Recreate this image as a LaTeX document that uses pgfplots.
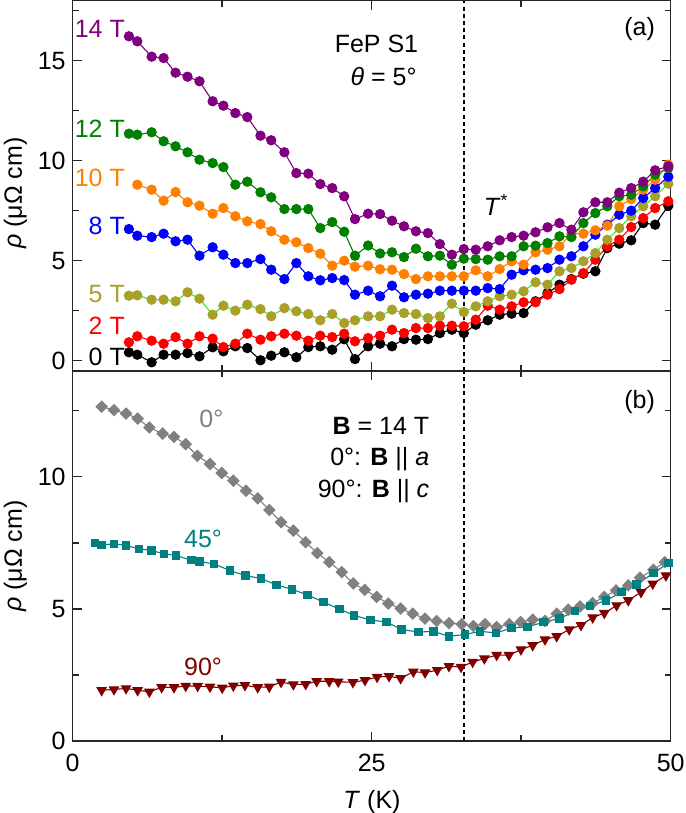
\documentclass[border=0pt]{standalone}
\usepackage{fontspec}
\setmainfont{Liberation Sans}
\usepackage{pgfplots}
\pgfplotsset{compat=1.18}
\usepackage{pgfplotstable}

\definecolor{cP}{HTML}{800080}
\definecolor{cG}{HTML}{008000}
\definecolor{cO}{HTML}{FF8000}
\definecolor{cB}{HTML}{0000FF}
\definecolor{cY}{HTML}{A8A028}
\definecolor{cL}{HTML}{33EE22}
\definecolor{cR}{HTML}{FF0000}
\definecolor{cK}{HTML}{000000}
\definecolor{cGr}{HTML}{808080}
\definecolor{cT}{HTML}{008080}
\definecolor{cDR}{HTML}{800000}

\newcommand{\fs}{\fontsize{12.5}{15}\selectfont}

\pgfplotstableread{
T v
4.7 16.22
5.4 15.97
6.6 15.2
7.6 15.13
8.6 14.4
9.6 14.2
10.6 13.97
11.7 12.97
12.6 12.75
13.6 12.38
14.6 12.18
15.7 11.25
16.6 11.02
17.7 10.42
18.7 9.38
19.7 9.35
20.7 8.83
21.7 8.63
22.7 8.22
23.6 7.08
24.7 7.35
25.7 7.33
26.7 7.0
27.7 6.72
28.7 6.47
29.7 6.38
30.7 5.83
31.7 5.3
32.7 5.58
33.7 5.55
34.7 5.72
35.7 6.02
36.7 6.18
37.7 6.25
38.7 6.42
39.7 6.67
40.7 6.88
41.7 6.55
42.7 7.42
43.7 7.92
44.7 7.92
45.7 8.4
46.7 8.63
47.7 8.95
48.7 9.52
49.8 9.72
}\tFourteen

\pgfplotstableread{
T v
4.7 11.35
5.4 11.3
6.6 11.42
7.6 10.97
8.6 10.72
9.6 10.42
10.6 10.05
11.7 9.88
12.6 9.68
13.6 8.8
14.6 8.95
15.7 8.42
16.6 8.17
17.7 7.58
18.7 7.58
19.7 7.58
20.7 6.63
21.7 6.93
22.7 6.45
23.6 5.25
24.7 5.76
25.7 5.36
26.7 5.42
27.7 5.18
28.7 5.6
29.7 5.22
30.7 5.25
31.7 4.8
32.7 5.1
33.7 5.08
34.7 5.05
35.7 5.22
36.7 5.22
37.7 5.72
38.7 5.75
39.7 5.88
40.7 6.22
41.7 6.18
42.7 6.88
43.7 7.38
44.7 7.72
45.7 8.22
46.7 8.3
47.7 8.72
48.7 9.3
49.8 9.63
}\tTwelve

\pgfplotstableread{
T v
5.4 8.8
6.6 8.55
7.6 8.0
8.6 8.43
9.6 7.92
10.6 7.75
11.7 7.35
12.6 7.63
13.6 7.22
14.6 6.97
15.7 6.83
16.6 6.47
17.7 6.05
18.7 5.92
19.7 5.63
20.7 5.35
21.7 4.75
22.7 5.0
23.6 4.7
24.7 4.75
25.7 4.57
26.7 4.55
27.7 4.33
28.7 4.08
29.7 4.22
30.7 4.22
31.7 4.22
32.7 4.22
33.7 4.52
34.7 4.22
35.7 4.58
36.7 4.97
37.7 4.8
38.7 5.42
39.7 5.55
40.7 5.72
41.7 6.35
42.7 6.35
43.7 6.52
44.7 6.75
45.7 7.72
46.7 8.08
47.7 8.55
48.7 9.05
49.8 9.8
}\tTen

\pgfplotstableread{
T v
4.7 6.58
5.4 6.25
6.6 6.18
7.6 6.35
8.6 5.97
9.6 6.05
10.6 5.25
11.7 5.67
12.6 5.3
13.6 4.88
14.6 4.88
15.7 5.08
16.6 4.55
17.7 4.08
18.7 4.88
19.7 4.22
20.7 4.02
21.7 4.13
22.7 4.03
23.6 3.3
24.7 3.5
25.7 3.22
26.7 3.75
27.7 3.17
28.7 3.3
29.7 3.35
30.7 3.5
31.7 3.5
32.7 3.5
33.7 3.5
34.7 3.63
35.7 3.58
36.7 4.3
37.7 4.52
38.7 4.55
39.7 4.63
40.7 5.05
41.7 5.22
42.7 5.72
43.7 6.3
44.7 6.8
45.7 7.3
46.7 7.5
47.7 8.13
48.7 8.63
49.8 9.2
}\tEight

\pgfplotstableread{
T v
4.7 3.25
5.4 3.27
6.6 3.05
7.6 3.05
8.6 2.97
9.6 3.42
10.6 3.1
11.7 2.3
12.6 2.75
13.6 2.5
14.6 2.8
15.7 2.58
16.6 2.22
17.7 2.63
18.7 2.47
19.7 2.33
20.7 2.02
21.7 2.33
22.7 1.88
23.6 2.02
24.7 2.22
25.7 2.22
26.7 2.55
27.7 2.38
28.7 2.33
29.7 2.13
30.7 2.22
31.7 2.85
32.7 2.43
33.7 2.72
34.7 2.97
35.7 3.22
36.7 3.3
37.7 3.47
38.7 3.92
39.7 3.8
40.7 4.47
41.7 4.63
42.7 4.97
43.7 5.38
44.7 6.05
45.7 6.63
46.7 7.22
47.7 7.72
48.7 8.22
49.8 8.85
}\tFive

\pgfplotstableread{
T v
4.7 0.92
5.4 1.22
6.6 1.0
7.6 0.85
8.6 1.18
9.6 0.85
10.6 1.22
11.7 1.1
12.6 0.68
13.6 0.85
14.6 1.35
15.7 1.05
16.6 1.22
17.7 1.35
18.7 1.25
19.7 1.0
20.7 1.25
21.7 1.18
22.7 1.35
23.6 0.97
24.7 1.13
25.7 1.25
26.7 1.55
27.7 1.38
28.7 1.63
29.7 1.63
30.7 1.75
31.7 1.75
32.7 1.72
33.7 2.05
34.7 2.75
35.7 2.55
36.7 2.72
37.7 2.92
38.7 2.92
39.7 3.3
40.7 3.58
41.7 4.05
42.7 4.38
43.7 5.05
44.7 5.72
45.7 6.05
46.7 6.68
47.7 7.13
48.7 7.63
49.8 7.97
}\tTwo

\pgfplotstableread{
T v
4.7 0.42
5.4 0.3
6.6 -0.08
7.6 0.3
8.6 0.3
9.6 0.38
10.6 0.22
11.7 0.67
12.6 0.47
13.6 0.72
14.6 0.63
15.7 0.02
16.6 0.25
17.7 0.42
18.7 0.17
19.7 0.68
20.7 0.72
21.7 0.55
22.7 1.07
23.6 0.08
24.7 0.72
25.7 0.85
26.7 0.72
27.7 1.08
28.7 1.05
29.7 1.08
30.7 1.38
31.7 1.55
32.7 1.38
33.7 1.8
34.7 2.02
35.7 2.3
36.7 2.35
37.7 2.38
38.7 2.97
39.7 3.38
40.7 3.8
41.7 4.08
42.7 4.35
43.7 4.47
44.7 5.63
45.7 5.85
46.7 6.02
47.7 6.88
48.7 6.8
49.8 7.75
}\tZero

\pgfplotstableread{
T v
2.42 12.65
3.45 12.52
4.46 12.39
5.43 12.2
6.41 11.86
7.52 11.63
8.47 11.51
9.45 11.23
10.42 10.79
11.48 10.48
12.46 10.14
13.43 9.85
14.49 9.47
15.47 9.18
16.44 8.74
17.42 8.28
18.45 7.96
19.48 7.52
20.45 7.11
21.45 6.77
22.49 6.39
23.46 5.96
24.42 5.72
25.42 5.45
26.39 5.2
27.42 5.01
28.43 4.82
29.46 4.63
30.43 4.54
31.46 4.46
32.52 4.42
33.5 4.35
34.47 4.42
35.45 4.31
36.5 4.42
37.46 4.5
38.46 4.59
39.49 4.54
40.47 4.82
41.44 4.97
42.42 5.09
43.48 5.22
44.45 5.45
45.43 5.7
46.45 5.89
47.44 6.18
48.55 6.48
49.5 6.77
}\tDegZero

\pgfplotstableread{
T v
1.86 7.5
2.42 7.42
3.45 7.46
4.46 7.4
5.54 7.27
6.6 7.21
7.63 7.08
8.64 7.02
9.92 6.84
10.6 6.79
11.82 6.7
13.15 6.45
14.43 6.26
15.74 6.15
17.06 5.9
18.33 5.74
19.62 5.53
20.95 5.26
22.3 4.99
23.54 4.75
24.88 4.58
26.25 4.5
27.5 4.22
28.9 4.12
30.15 4.15
31.46 3.96
32.8 4.03
34.05 4.15
35.4 4.09
36.7 4.28
38.04 4.31
39.35 4.5
40.7 4.63
42.0 4.92
43.25 5.1
44.6 5.32
45.9 5.63
47.16 5.92
48.55 6.35
49.8 6.73
}\tDegFortyFive

\pgfplotstableread{
T v
2.42 1.92
3.45 1.95
4.46 1.99
5.43 1.92
6.41 1.86
7.44 2.03
8.47 2.03
9.45 2.08
10.45 2.08
11.48 2.05
12.5 2.01
13.43 2.09
14.4 2.11
15.47 2.03
16.44 2.05
17.42 2.23
18.45 2.14
19.48 2.15
20.4 2.26
21.45 2.26
22.2 2.24
23.43 2.22
24.44 2.3
25.45 2.42
26.45 2.45
27.42 2.37
28.48 2.62
29.46 2.59
30.48 2.68
31.46 2.83
32.47 2.8
33.44 2.99
34.42 3.12
35.45 3.25
36.48 3.25
37.48 3.46
38.46 3.62
39.49 3.84
40.47 3.96
41.52 4.22
42.5 4.38
43.48 4.67
44.45 4.84
45.48 5.13
46.45 5.32
47.52 5.63
48.5 5.95
49.6 6.26
}\tDegNinety

\pgfplotsset{
  panel/.style={
    scale only axis, width=299pt, height=185pt,
    xmin=0, xmax=50, xtick={0,25,50}, minor xtick={12.5,37.5},
    axis line style={line width=0.75pt, black!85},
    every tick/.style={black!85, line width=0.75pt},
    major tick length=4.5pt, minor tick length=3pt,
    /pgf/number format/assume math mode=true,
    tick label style={font=\fs},
    xticklabel style={yshift=-3pt},
    every axis plot/.append style={line width=0.55pt},
  },
  circ/.style={mark=*, mark size=2.3pt, mark options={solid}},
}

\begin{document}
\begin{tikzpicture}[font=\fs]
\path[use as bounding box] (0,0) rectangle (342.5pt,406.5pt);

% ---------- panel (a)
\begin{axis}[panel, at={(36.35pt,221.15pt)}, anchor=south west,
  ymin=-0.5, ymax=18, ytick={0,5,10,15}, minor ytick={2.5,7.5,12.5,17.5},
  xticklabels={}]
\addplot[color=cK, circ] table[x=T,y=v] {\tZero};
\addplot[color=cR, circ] table[x=T,y=v] {\tTwo};
\addplot[color=cL, circ, mark options={fill=cY, draw=cY}] table[x=T,y=v] {\tFive};
\addplot[color=cB, circ] table[x=T,y=v] {\tEight};
\addplot[color=cO, circ] table[x=T,y=v] {\tTen};
\addplot[color=cG, circ] table[x=T,y=v] {\tTwelve};
\addplot[color=cP, circ] table[x=T,y=v] {\tFourteen};
\draw[line width=0.8pt, dash pattern=on 2pt off 1.6pt] (axis cs:32.7,-0.5) -- (axis cs:32.7,18);
\node[anchor=east, text=cP] at (axis cs:4.95,16.6) {14 T};
\node[anchor=east, text=cG] at (axis cs:4.95,11.6) {12 T};
\node[anchor=east, text=cO] at (axis cs:4.95,9.15) {10 T};
\node[anchor=east, text=cB] at (axis cs:4.95,6.75) {8 T};
\node[anchor=east, text=cY] at (axis cs:4.95,3.35) {5 T};
\node[anchor=east, text=cR] at (axis cs:4.95,1.75) {2 T};
\node[anchor=east, text=cK] at (axis cs:4.95,0.2) {0 T};
\node at (axis cs:25.4,15.85) {FeP S1};
\node at (axis cs:26.0,14.2) {\textit{θ} = 5°};
\node at (axis cs:47.4,16.6) {(a)};
\node at (axis cs:35.4,7.8) {\textit{T}\textsuperscript{*}};
\end{axis}

% ---------- panel (b)
\begin{axis}[panel, at={(36.35pt,36pt)}, anchor=south west,
  ymin=0, ymax=14, ytick={0,5,10}, minor ytick={2.5,7.5,12.5}]
\addplot[color=cGr, mark=square*, mark size=1.95pt, mark options={rotate=45, solid}] table[x=T,y=v] {\tDegZero};
\addplot[color=cT, mark=square*, mark size=1.85pt, mark options={solid}] table[x=T,y=v] {\tDegFortyFive};
\addplot[color=cDR, mark=triangle*, mark size=2.6pt, mark options={rotate=180, solid}] table[x=T,y=v] {\tDegNinety};
\draw[line width=0.8pt, dash pattern=on 2pt off 1.6pt] (axis cs:32.7,0) -- (axis cs:32.7,14);
\node at (axis cs:47.4,12.83) {(b)};
\node[anchor=east] at (axis cs:30.4,11.92) {\textbf{B} = 14 T};
\node[anchor=east] at (axis cs:30.4,10.68) {0°: \textbf{B} || \textit{a}};
\node[anchor=east] at (axis cs:30.4,9.47) {90°: \textbf{B} || \textit{c}};
\node[text=cGr] at (axis cs:11.6,12.19) {0°};
\node[text=cT] at (axis cs:10.9,7.66) {45°};
\node[text=cDR] at (axis cs:10.9,2.79) {90°};
\end{axis}

\node[rotate=90] at (7.75pt,310pt) {\textit{ρ} (μΩ cm)};
\node[rotate=90] at (7.75pt,128.5pt) {\textit{ρ} (μΩ cm)};
\node at (186pt,5.5pt) {\textit{T} (K)};
\end{tikzpicture}
\end{document}
